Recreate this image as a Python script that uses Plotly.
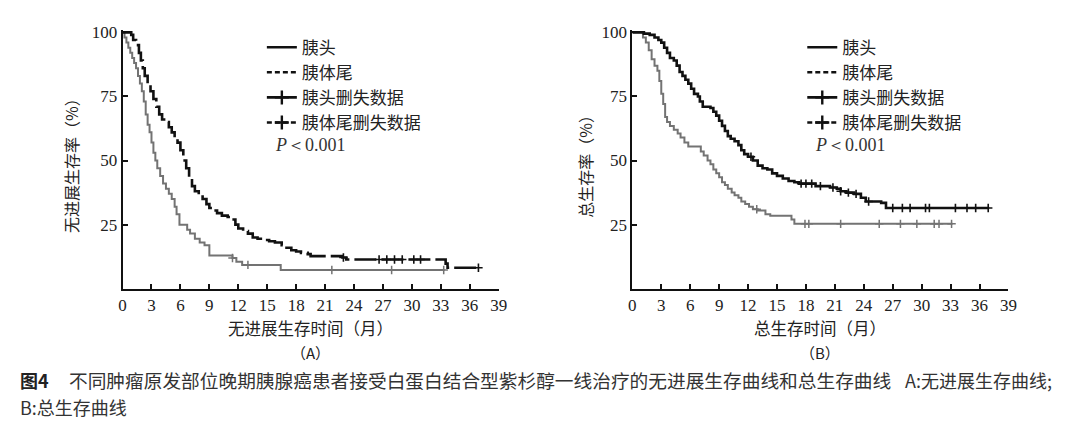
import plotly.graph_objects as go

# ---------------- data ----------------
# Panel A: progression-free survival (%)
pfs_head_t = [0, 0.9, 1.1, 1.4, 1.7, 1.9, 2.1, 2.3, 2.6, 2.9, 3.2, 3.5, 3.8, 4.1, 4.5, 4.8, 5.1, 5.4, 5.7,
              6.0, 6.3, 6.6, 6.9, 7.2, 7.5, 7.9, 8.3, 8.7, 9.0, 9.4, 9.8, 10.3, 10.9, 11.3, 11.7, 12.0,
              12.5, 13.0, 13.5, 14.0, 14.6, 15.2, 15.8, 16.5, 17.0, 17.5, 18.0, 18.5, 19.2, 19.5, 22.8,
              23.2, 33.5, 33.7, 37.0]
pfs_head_s = [100, 99, 97, 95, 92, 89, 86, 83, 80, 77, 74, 71, 68, 66, 65, 63, 61, 59, 57,
              54, 50, 47, 43, 40, 38, 36.5, 35, 33, 31.5, 30.5, 29.5, 28.5, 28, 27, 25, 23.5,
              22.5, 21.5, 20, 19.5, 19, 18.5, 18, 17, 16, 15, 14.5, 14, 13.5, 12.7, 12.2,
              11.4, 9.8, 8.2, 8.2]
pfs_head_cens = [22.9, 26.6, 27.4, 28.2, 29.0, 30.2, 30.9, 36.9]

pfs_tail_t = [0, 0.2, 0.4, 0.6, 0.8, 1.0, 1.2, 1.4, 1.6, 1.8, 2.0, 2.2, 2.4, 2.6, 2.8, 3.0, 3.2, 3.4, 3.6,
              3.9, 4.2, 4.5, 4.8, 5.1, 5.4, 5.6, 5.9, 6.7, 7.0, 7.5, 8.0, 8.5, 9.0, 11.4, 11.8, 12.4,
              16.4, 33.4]
pfs_tail_s = [100, 98, 96, 94, 92, 90, 88, 86, 83, 80, 77, 73, 68, 64, 61, 57, 53, 50, 47,
              44, 41, 39, 37, 35, 32, 29, 25, 23, 21.5, 19.5, 18, 17, 13, 12, 10.5, 9.3,
              7.3, 7.3]
pfs_tail_cens = [11.4, 13.0, 21.7, 27.9, 33.3]

# Panel B: overall survival (%)
os_head_t = [0, 1.2, 1.8, 2.3, 2.7, 3.0, 3.3, 3.6, 3.9, 4.3, 4.6, 4.9, 5.2, 5.5, 5.8, 6.1, 6.4, 6.8, 7.0,
             7.3, 8.1, 8.4, 8.7, 9.0, 9.3, 9.6, 9.9, 10.2, 10.6, 11.0, 11.3, 11.6, 12.0, 12.5, 13.0,
             13.5, 14.0, 14.5, 15.0, 15.6, 16.2, 16.8, 17.3, 19.0, 20.5, 21.2, 21.6, 22.2, 23.0,
             23.7, 24.2, 25.8, 26.3, 37.0]
os_head_s = [100, 99.5, 99, 98, 97, 96, 94, 92, 90, 89, 87, 84.5, 83, 81.5, 80, 78, 76, 75, 73,
             71, 70.5, 69, 67.5, 65.5, 63.5, 61.5, 59.5, 58.5, 57.5, 56, 54, 52.5, 51.5, 50, 48,
             47, 46.5, 45, 44, 43, 42, 41.5, 41, 40, 39.5, 39, 38, 37.5, 37,
             35.5, 34, 33.5, 31.5, 31.5]
os_head_cens = [12.3, 17.5, 18.0, 18.6, 19.5, 20.8, 21.6, 22.4, 23.2, 24.5, 27.0, 28.0, 28.8,
                30.4, 30.8, 33.5, 34.7, 35.6, 36.9]

os_tail_t = [0, 1.1, 1.4, 1.7, 2.0, 2.3, 2.6, 2.8, 3.0, 3.2, 3.4, 3.6, 3.9, 4.3, 4.7, 5.0, 5.4, 5.8,
             7.1, 7.4, 7.8, 8.1, 8.4, 8.7, 9.0, 9.3, 9.6, 9.9, 10.3, 10.6, 11.0, 11.3, 11.7, 12.1,
             12.5, 13.0, 13.8, 14.3, 16.5, 16.8, 33.2]
os_tail_s = [100, 98, 96, 93, 89.5, 87, 85, 81, 76, 72, 67, 65, 63.5, 62, 60.5, 59, 57, 55.5,
             53.5, 52, 50, 48.5, 46.5, 45, 43.5, 41.5, 40.5, 39, 37.5, 36.5, 35.5, 34, 33, 32,
             31, 30.5, 29, 28.5, 27, 25.3, 25.3]
os_tail_cens = [12.9, 17.9, 18.3, 21.6, 25.6, 27.8, 29.5, 31.3, 31.8, 33.1]

x_ticks = list(range(0, 40, 3))
y_ticks = [25, 50, 75, 100]

legend_labels = ["胰头", "胰体尾", "胰头删失数据", "胰体尾删失数据"]
p_text = "<i>P</i>＜0.001"
titles_x = ["无进展生存时间（月）", "总生存时间（月）"]
titles_y = ["无进展生存率（%）", "总生存率（%）"]
panel_tags = ["（A）", "（B）"]
caption_lead = "<b>图4</b>"
caption_main = "不同肿瘤原发部位晚期胰腺癌患者接受白蛋白结合型紫杉醇一线治疗的无进展生存曲线和总生存曲线"
caption_a = "A:无进展生存曲线;"
caption_b = "B:总生存曲线"


def step_value(ts, ss, t):
    v = ss[0]
    for ti, si in zip(ts, ss):
        if ti <= t:
            v = si
        else:
            break
    return v


W, H = 1080, 432
BLACK = "#111111"
GRAY = "#737373"
CJK = "Noto Sans CJK SC"
NUM = "Liberation Serif"

fig = go.Figure()

panels = [
    dict(xa="x", ya="y", dom=[120 / W, 500.7 / W], leg="legend",
         head=(pfs_head_t, pfs_head_s, pfs_head_cens), tail=(pfs_tail_t, pfs_tail_s, pfs_tail_cens),
         head_dash="22px,5px"),
    dict(xa="x2", ya="y2", dom=[636 / W, 1016.7 / W], leg="legend2",
         head=(os_head_t, os_head_s, os_head_cens), tail=(os_tail_t, os_tail_s, os_tail_cens),
         head_dash="solid"),
]

for p in panels:
    ht, hs, hc = p["head"]
    tt, ts_, tc = p["tail"]
    fig.add_trace(go.Scatter(x=tt, y=ts_, mode="lines", line=dict(shape="hv", color=GRAY, width=2),
                             xaxis=p["xa"], yaxis=p["ya"], showlegend=False, hoverinfo="skip"))
    fig.add_trace(go.Scatter(x=tc, y=[step_value(tt, ts_, c) for c in tc], mode="markers",
                             marker=dict(symbol="cross-thin", size=6, line=dict(color=GRAY, width=1.5)),
                             xaxis=p["xa"], yaxis=p["ya"], showlegend=False, hoverinfo="skip",
                             cliponaxis=False))
    fig.add_trace(go.Scatter(x=ht, y=hs, mode="lines",
                             line=dict(shape="hv", color=BLACK, width=2.6, dash=p["head_dash"]),
                             xaxis=p["xa"], yaxis=p["ya"], showlegend=False, hoverinfo="skip"))
    fig.add_trace(go.Scatter(x=hc, y=[step_value(ht, hs, c) for c in hc], mode="markers",
                             marker=dict(symbol="cross-thin", size=6, line=dict(color=BLACK, width=1.6)),
                             xaxis=p["xa"], yaxis=p["ya"], showlegend=False, hoverinfo="skip",
                             cliponaxis=False))
    styles = [
        dict(mode="lines", line=dict(color=BLACK, width=2.6)),
        dict(mode="lines", line=dict(color=BLACK, width=2.6, dash="5px,3px")),
        dict(mode="lines+markers", line=dict(color=BLACK, width=2.6),
             marker=dict(symbol="cross-thin", size=10, line=dict(color=BLACK, width=2.4))),
        dict(mode="lines+markers", line=dict(color=BLACK, width=2.6, dash="5px,3px"),
             marker=dict(symbol="cross-thin", size=10, line=dict(color=BLACK, width=2.4))),
    ]
    for lab, st in zip(legend_labels, styles):
        fig.add_trace(go.Scatter(x=[None], y=[None], name=lab, xaxis=p["xa"], yaxis=p["ya"],
                                 legend=p["leg"], showlegend=True, **st))

axis_common = dict(showline=True, linewidth=2, linecolor=BLACK, ticks="inside", ticklen=5,
                   tickwidth=1.5, tickcolor=BLACK, showgrid=False, zeroline=False,
                   tickfont=dict(family=NUM, size=17, color="#222222"))
ydom = [1 - 286.7 / H, 1 - 24.1 / H]

fig.update_layout(
    width=W, height=H, autosize=False,
    margin=dict(l=0, r=0, t=0, b=0),
    paper_bgcolor="white", plot_bgcolor="white",
    xaxis=dict(domain=panels[0]["dom"], range=[0, 39], tickvals=x_ticks, anchor="y", **axis_common),
    yaxis=dict(domain=ydom, range=[0, 101], tickvals=y_ticks, anchor="x", **axis_common),
    xaxis2=dict(domain=panels[1]["dom"], range=[0, 39], tickvals=x_ticks, anchor="y2", **axis_common),
    yaxis2=dict(domain=ydom, range=[0, 101], tickvals=y_ticks, anchor="x2", **axis_common),
    legend=dict(x=261 / W, y=1 - 24 / H, xanchor="left", yanchor="top", bgcolor="rgba(0,0,0,0)",
                font=dict(family=CJK, size=17, color="#222222"), itemwidth=30, borderwidth=0),
    legend2=dict(x=808 / W, y=1 - 24 / H, xanchor="left", yanchor="top", bgcolor="rgba(0,0,0,0)",
                 font=dict(family=CJK, size=17, color="#222222"), itemwidth=30, borderwidth=0),
    showlegend=True,
)

ann = []
for i, (px_l, cx) in enumerate([(272, 310.3), (819, 826.3)]):
    ann.append(dict(text=p_text, x=px_l / W, y=1 - 141 / H, xref="paper", yref="paper",
                    xanchor="left", yanchor="middle", showarrow=False,
                    font=dict(family=NUM, size=18, color="#333333")))
    ann.append(dict(text=titles_x[i], x=cx / W, y=1 - 327 / H, xref="paper", yref="paper",
                    xanchor="center", yanchor="middle", showarrow=False,
                    font=dict(family=CJK, size=16.5, color="#222222")))
    ann.append(dict(text=panel_tags[i], x=cx / W, y=1 - 351 / H, xref="paper", yref="paper",
                    xanchor="center", yanchor="middle", showarrow=False,
                    font=dict(family=CJK, size=15, color="#222222")))
for xp, t in [(68, titles_y[0]), (588, titles_y[1])]:
    ann.append(dict(text=t, x=xp / W, y=1 - 158 / H, xref="paper", yref="paper", textangle=-90,
                    xanchor="center", yanchor="middle", showarrow=False,
                    font=dict(family=CJK, size=16, color="#222222")))
# caption
ann.append(dict(text=caption_lead, x=14 / W, y=1 - 379 / H, xref="paper", yref="paper",
                xanchor="left", yanchor="middle", showarrow=False,
                font=dict(family=CJK, size=18, color="#222222")))
ann.append(dict(text=caption_main, x=64 / W, y=1 - 379 / H, xref="paper", yref="paper",
                xanchor="left", yanchor="middle", showarrow=False,
                font=dict(family=CJK, size=18.7, color="#333333")))
ann.append(dict(text=caption_a, x=910 / W, y=1 - 379 / H, xref="paper", yref="paper",
                xanchor="left", yanchor="middle", showarrow=False,
                font=dict(family=CJK, size=18, color="#333333")))
ann.append(dict(text=caption_b, x=14 / W, y=1 - 407 / H, xref="paper", yref="paper",
                xanchor="left", yanchor="middle", showarrow=False,
                font=dict(family=CJK, size=18, color="#333333")))
fig.update_layout(annotations=ann)

fig.write_html("out.html", config={"displayModeBar": False},
               post_script="document.body.style.margin='0';")
